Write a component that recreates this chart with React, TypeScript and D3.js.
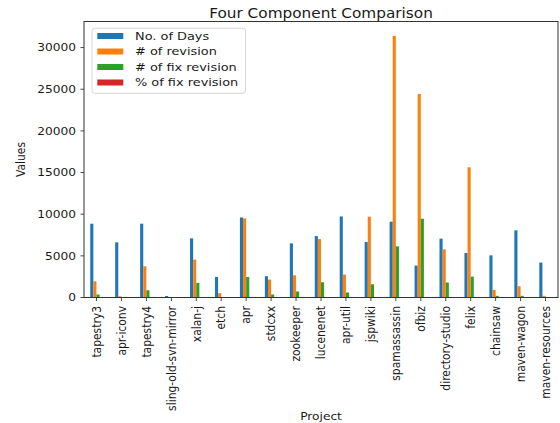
import React from "react";
import * as d3 from "d3";

const projects = [
  "tapestry3", "apr-iconv", "tapestry4", "sling-old-svn-mirror", "xalan-j", "etch", "apr",
  "stdcxx", "zookeeper", "lucenenet", "apr-util", "jspwiki", "spamassassin", "ofbiz",
  "directory-studio", "felix", "chainsaw", "maven-wagon", "maven-resources",
];
const noOfDays = [8860, 6620, 8860, 180, 7100, 2470, 9600, 2550, 6500, 7370, 9730, 6660, 9100, 3830, 7060, 5340, 5060, 8060, 4190];
const numRevision = [1950, 150, 3750, 60, 4550, 520, 9490, 2150, 2670, 7010, 2750, 9700, 31400, 24420, 5780, 15630, 910, 1350, 200];
const numFixRevision = [360, 20, 870, 10, 1750, 50, 2470, 360, 720, 1830, 600, 1590, 6140, 9460, 1800, 2510, 200, 200, 30];
const pctFixRevision = [18, 13, 23, 17, 38, 10, 26, 17, 27, 26, 22, 16, 20, 39, 31, 16, 22, 15, 15];
const seriesNames = ["No. of Days", "# of revision", "# of fix revision", "% of fix revision"];
const seriesColors = ["#1f77b4", "#ff7f0e", "#2ca02c", "#d62728"];
const yTicks = [0, 5000, 10000, 15000, 20000, 25000, 30000];

const W = 560, H = 423;
const L = 84, R = 558, T = 21.5, B = 297.5;
const FONT = "DejaVu Sans, sans-serif";
const SY = 0.88;
const TXT = "#1a1a1a";

export default function App() {
  const series = [noOfDays, numRevision, numFixRevision, pctFixRevision];
  const x = d3.scaleLinear().domain([-0.5, projects.length - 0.5]).range([L, R]);
  const y = d3.scaleLinear().domain([0, 33070]).range([B, T + 0.5]);
  const bw = 0.5 / series.length;
  const unit = x(1) - x(0);
  return (
    <div style={{ position: "fixed", left: 0, top: 0 }}>
      <svg width={W} height={H} style={{ display: "block", background: "#fff" }} fontFamily={FONT}>
        <rect x={0} y={0} width={W} height={H} fill="#fff" />
        {series.map((vals, s) =>
          vals.map((v, i) => {
            const cx = i - 0.25 + bw * s;
            return (
              <rect key={`${s}-${i}`} x={x(cx)} width={bw * unit} y={y(v)} height={B - y(v)} fill={seriesColors[s]} />
            );
          })
        )}
        <rect x={L} y={T} width={R - L} height={B - T} fill="none" stroke="#333" strokeWidth={1} />
        {yTicks.map((t) => (
          <g key={t}>
            <line x1={L - 3.5} x2={L} y1={y(t)} y2={y(t)} stroke="#333" strokeWidth={0.9} />
            <text transform={`translate(${L - 8},${y(t)}) scale(1,${SY})`} dy="0.35em" textAnchor="end" fontSize={12.2} fill={TXT}>{t}</text>
          </g>
        ))}
        {projects.map((p, i) => (
          <g key={p}>
            <line x1={x(i)} x2={x(i)} y1={B} y2={B + 3.5} stroke="#333" strokeWidth={0.9} />
            <text transform={`translate(${x(i)},${B + 8.5}) scale(1,${SY}) rotate(-90)`} dy="0.35em" textAnchor="end" fontSize={12.2} fill={TXT}>{p}</text>
          </g>
        ))}
        <text transform={`translate(${(L + R) / 2},17.5) scale(1,${SY})`} textAnchor="middle" fontSize={15.3} fill={TXT}>Four Component Comparison</text>
        <text transform={`translate(24.5,${(T + B) / 2}) scale(1,${SY}) rotate(-90)`} textAnchor="middle" fontSize={12.2} fill={TXT}>Values</text>
        <text transform={`translate(${(L + R) / 2},419.5) scale(1,${SY})`} textAnchor="middle" fontSize={12.2} fill={TXT}>Project</text>
        <g>
          <rect x={92} y={28.3} width={153.5} height={65} rx={2.5} fill="#fff" fillOpacity={0.8} stroke="#d6d6d6" strokeWidth={1} />
          {seriesNames.map((n, k) => (
            <g key={n}>
              <rect x={97.3} y={33 + k * 15.5} width={26} height={6} fill={seriesColors[k]} />
              <text transform={`translate(135,${36 + k * 15.5}) scale(1,${SY})`} dy="0.35em" fontSize={12.9} fill={TXT}>{n}</text>
            </g>
          ))}
        </g>
      </svg>
    </div>
  );
}
